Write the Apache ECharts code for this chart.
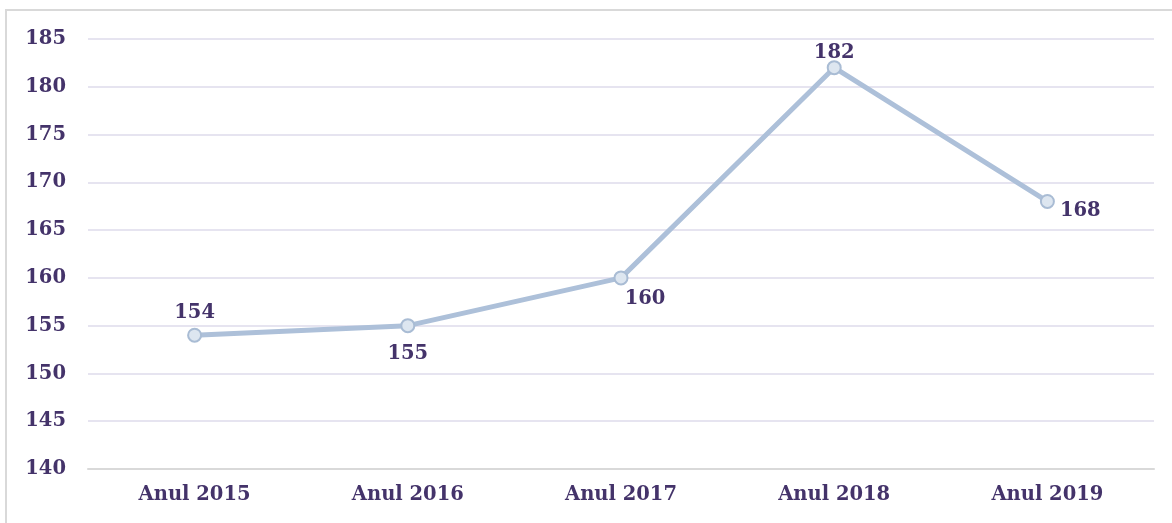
<!DOCTYPE html>
<html>
<head>
<meta charset="utf-8">
<script src="https://cdn.jsdelivr.net/npm/echarts@6/dist/echarts.min.js"></script>
<style>
  html, body { margin: 0; padding: 0; background: #fff; }
  #frame { position: absolute; left: 5px; top: 9px; width: 1175px; height: 525px; border: 2px solid #d9d9d9; box-sizing: border-box; }
  #chart { position: absolute; left: 0; top: 0; width: 1172px; height: 523px; }
</style>
</head>
<body>
<div id="frame"></div>
<div id="chart"></div>
<script>
// chart data
const categories = ['Anul 2015', 'Anul 2016', 'Anul 2017', 'Anul 2018', 'Anul 2019']
const values = [154, 155, 160, 182, 168]
const labelPositions = ['top', 'bottom', 'bottom', 'top', 'right']
// small nudges so labels sit where the original put them
const labelOffsets = [[0, 3], [0, 3], [24, -4], [0, 11], [-3, 9]]

const textColor = '#44336a'
const fontFamily = '"DejaVu Serif", serif'

const chart = echarts.init(document.getElementById('chart'))

chart.setOption({
  animation: false,
  grid: {
    left: 88,
    right: 18,
    top: 39,
    bottom: 54
  },
  xAxis: {
    type: 'category',
    data: categories,
    boundaryGap: true,
    axisTick: { show: false },
    axisLine: { show: true, lineStyle: { color: '#d9d9d9', width: 2 } },
    axisLabel: {
      color: textColor,
      fontFamily: fontFamily,
      fontWeight: 'bold',
      fontSize: 19.5,
      margin: 16
    }
  },
  yAxis: {
    type: 'value',
    min: 140,
    max: 185,
    interval: 5,
    axisLine: { show: false },
    axisTick: { show: false },
    splitLine: { lineStyle: { color: '#e6e4f0', width: 2 } },
    axisLabel: {
      color: textColor,
      fontFamily: fontFamily,
      fontWeight: 'bold',
      fontSize: 19.5,
      margin: 22
    }
  },
  series: [{
    type: 'line',
    data: values.map((v, i) => ({
      value: v,
      label: {
        position: labelPositions[i],
        offset: labelOffsets[i]
      }
    })),
    symbol: 'circle',
    symbolSize: 13,
    lineStyle: { color: '#adc0d9', width: 5 },
    itemStyle: { color: '#dde6f0', borderColor: '#a9bcd4', borderWidth: 2 },
    label: {
      show: true,
      color: textColor,
      fontFamily: fontFamily,
      fontWeight: 'bold',
      fontSize: 19.5,
      distance: 8
    }
  }]
})
</script>
</body>
</html>
